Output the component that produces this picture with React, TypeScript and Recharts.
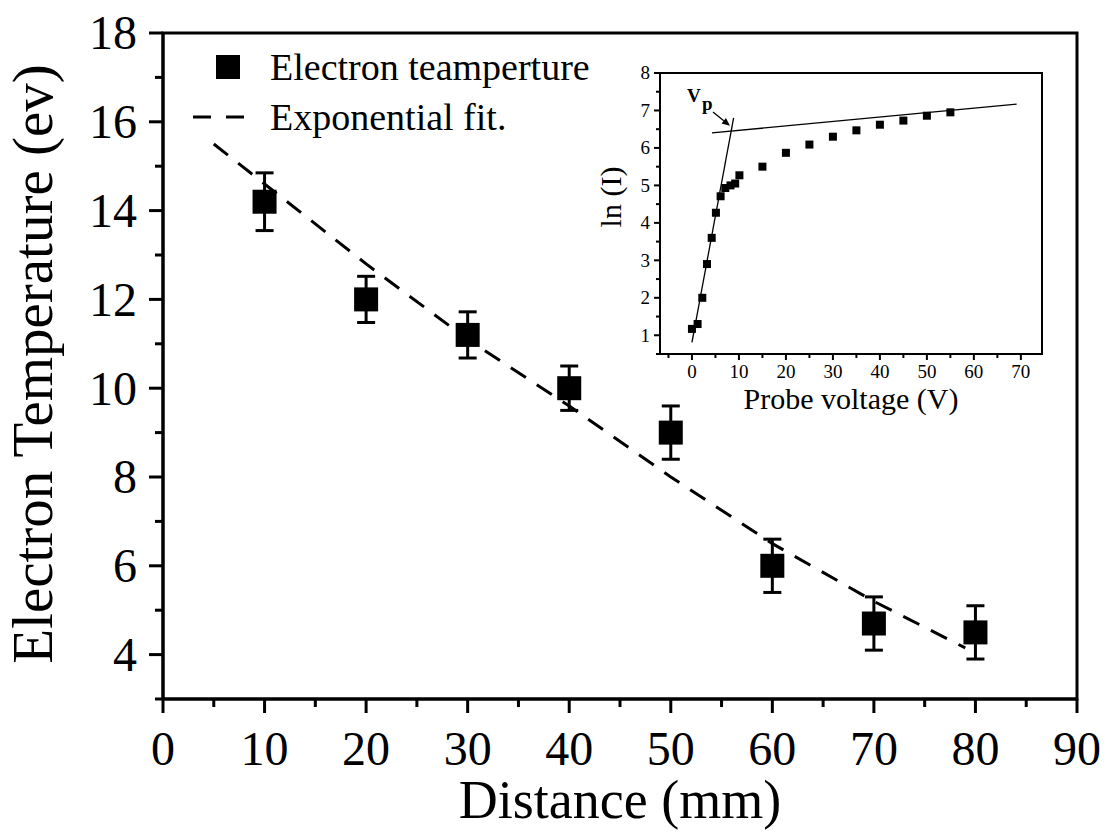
import React from 'react';
import {
  ComposedChart,
  Scatter,
  Line,
  XAxis,
  YAxis,
  ErrorBar,
  ReferenceArea,
  ReferenceLine,
  Legend,
} from 'recharts';

const FONT = '"Liberation Serif", "Times New Roman", Times, serif';

// ---- main chart data ----
const distanceMm = [10, 20, 30, 40, 50, 60, 70, 80];
const electronTemp = [14.2, 12.0, 11.2, 10.0, 9.0, 6.0, 4.7, 4.5];
const tempError = [0.65, 0.52, 0.52, 0.5, 0.6, 0.6, 0.6, 0.6];
const fitDistance = [5, 10, 20, 30, 40, 50, 60, 70, 79];
const fitTemp = [15.5, 14.6, 12.8, 11.1, 9.6, 8.0, 6.5, 5.2, 4.15];
const mainXTicks = [0, 5, 10, 15, 20, 25, 30, 35, 40, 45, 50, 55, 60, 65, 70, 75, 80, 85, 90];
const mainYTicks = [3, 4, 5, 6, 7, 8, 9, 10, 11, 12, 13, 14, 15, 16, 17, 18];
const mainXDomain = [0, 90];
const mainYDomain = [3, 18];

// ---- inset data ----
const probeVoltage = [0, 1.2, 2.2, 3.2, 4.2, 5.1, 6.1, 7.1, 8.2, 9.2, 10.1, 15, 20, 25, 30, 35, 40, 45, 50, 55];
const lnCurrent = [1.17, 1.3, 2.0, 2.9, 3.6, 4.27, 4.71, 4.93, 5.0, 5.05, 5.27, 5.5, 5.87, 6.09, 6.3, 6.47, 6.62, 6.73, 6.86, 6.95];
const steepFitV = [0, 8.87];
const steepFitL = [0.81, 6.8];
const flatFitV = [4.26, 69.1];
const flatFitL = [6.4, 7.17];
const arrowV = [4.47, 8.09];
const arrowL = [6.96, 6.59];
const insetXTicks = [-5, 0, 5, 10, 15, 20, 25, 30, 35, 40, 45, 50, 55, 60, 65, 70];
const insetYTicks = [0.5, 1, 1.5, 2, 2.5, 3, 3.5, 4, 4.5, 5, 5.5, 6, 6.5, 7, 7.5, 8];
const insetXDomain = [-6.8, 74.5];
const insetYDomain = [0.5, 8];

const measured = distanceMm.map((x, i) => ({ x, t: electronTemp[i], err: tempError[i] }));
const fit = fitDistance.map((x, i) => ({ x, fit: fitTemp[i] }));
const probe = probeVoltage.map((v, i) => ({ v, l: lnCurrent[i] }));
const steep = steepFitV.map((v, i) => ({ v, l: steepFitL[i] }));
const flat = flatFitV.map((v, i) => ({ v, l: flatFitL[i] }));

const MainSquare = (p: any) => (
  <rect x={p.cx - 12} y={p.cy - 12} width={24} height={24} fill="#000" />
);
const InsetSquare = (p: any) => (
  <rect x={p.cx - 4} y={p.cy - 4} width={8} height={8} fill="#000" />
);

const MainXTick = (p: any) => {
  const { x, y, payload } = p;
  const major = payload.value % 10 === 0;
  return (
    <g>
      <line x1={x} x2={x} y1={y} y2={y + (major ? 14 : 8)} stroke="#000" strokeWidth={3} />
      {major && (
        <text x={x} y={y + 66} textAnchor="middle" fontSize={48} fontFamily={FONT} fill="#000">
          {payload.value}
        </text>
      )}
    </g>
  );
};

const MainYTick = (p: any) => {
  const { x, y, payload } = p;
  const major = payload.value % 2 === 0;
  return (
    <g>
      <line x1={x - (major ? 14 : 8)} x2={x} y1={y} y2={y} stroke="#000" strokeWidth={3} />
      {major && (
        <text x={x - 26} y={y} dy="0.34em" textAnchor="end" fontSize={48} fontFamily={FONT} fill="#000">
          {payload.value}
        </text>
      )}
    </g>
  );
};

const InsetXTick = (p: any) => {
  const { x, y, payload } = p;
  const major = payload.value % 10 === 0;
  return (
    <g>
      <line x1={x} x2={x} y1={y} y2={y + (major ? 6 : 4)} stroke="#000" strokeWidth={2} />
      {major && (
        <text x={x} y={y + 24} textAnchor="middle" fontSize={19} fontFamily={FONT} fill="#000">
          {payload.value}
        </text>
      )}
    </g>
  );
};

const InsetYTick = (p: any) => {
  const { x, y, payload } = p;
  const major = Number.isInteger(payload.value);
  return (
    <g>
      <line x1={x - (major ? 6 : 4)} x2={x} y1={y} y2={y} stroke="#000" strokeWidth={2} />
      {major && (
        <text x={x - 10} y={y} dy="0.34em" textAnchor="end" fontSize={19} fontFamily={FONT} fill="#000">
          {payload.value}
        </text>
      )}
    </g>
  );
};

const MainLegend = () => (
  <svg width={430} height={110} style={{ overflow: 'visible', display: 'block' }}>
    <rect x={31} y={15} width={24} height={24} fill="#000" />
    <text x={85} y={40} fontSize={38} fontFamily={FONT} fill="#000">
      Electron teamperture
    </text>
    <line x1={8} x2={60} y1={77} y2={77} stroke="#000" strokeWidth={3} strokeDasharray="18 15" />
    <text x={85} y={90} fontSize={38} fontFamily={FONT} fill="#000">
      Exponential fit.
    </text>
  </svg>
);

const VpArrow = (p: any) => {
  const { x1, y1, x2, y2 } = p;
  const ang = Math.atan2(y2 - y1, x2 - x1);
  const L = 8;
  const W = 3.5;
  const bx = x2 - L * Math.cos(ang);
  const by = y2 - L * Math.sin(ang);
  const pts = `${x2},${y2} ${bx - W * Math.sin(ang)},${by + W * Math.cos(ang)} ${bx + W * Math.sin(ang)},${by - W * Math.cos(ang)}`;
  return (
    <g>
      <line x1={x1} y1={y1} x2={bx} y2={by} stroke="#000" strokeWidth={1.3} />
      <polygon points={pts} fill="#000" />
      <text x={x1 - 26} y={y1 - 10} fontSize={19} fontWeight="bold" fontFamily={FONT} fill="#000">
        V
      </text>
      <text x={x1 - 11} y={y1 - 2} fontSize={19} fontWeight="bold" fontFamily={FONT} fill="#000">
        p
      </text>
    </g>
  );
};

export default function App() {
  return (
    <div style={{ position: 'absolute', left: 0, top: 0, width: 1109, height: 832, background: '#fff' }}>
      <ComposedChart width={1109} height={832} margin={{ top: 33, right: 32, left: 0, bottom: 0 }}>
        <XAxis
          type="number"
          dataKey="x"
          domain={mainXDomain}
          ticks={mainXTicks}
          interval={0}
          height={133}
          tickSize={0}
          tickMargin={0}
          tickLine={false}
          tick={<MainXTick />}
          axisLine={{ stroke: '#000', strokeWidth: 3 }}
          allowDataOverflow
          label={{
            content: (props: any) => {
              const vb = props.viewBox;
              return (
                <text x={vb.x + vb.width / 2} y={818} textAnchor="middle" fontSize={54} fontFamily={FONT} fill="#000">
                  Distance (mm)
                </text>
              );
            },
          }}
        />
        <YAxis
          type="number"
          domain={mainYDomain}
          ticks={mainYTicks}
          interval={0}
          width={163}
          tickSize={0}
          tickMargin={0}
          tickLine={false}
          tick={<MainYTick />}
          axisLine={{ stroke: '#000', strokeWidth: 3 }}
          allowDataOverflow
          label={{
            content: () => (
              <text
                x={52}
                y={364}
                transform="rotate(-90 52 364)"
                textAnchor="middle"
                fontSize={57}
                fontFamily={FONT}
                fill="#000"
              >
                Electron Temperature (ev)
              </text>
            ),
          }}
        />
        <ReferenceArea
          x1={mainXDomain[0]}
          x2={mainXDomain[1]}
          y1={mainYDomain[0]}
          y2={mainYDomain[1]}
          fill="none"
          stroke="#000"
          strokeWidth={3}
          ifOverflow="visible"
        />
        <Line
          data={fit}
          dataKey="fit"
          type="linear"
          stroke="#000"
          strokeWidth={3}
          strokeDasharray="18 13"
          dot={false}
          activeDot={false}
          isAnimationActive={false}
          legendType="none"
        />
        <Scatter data={measured} dataKey="t" shape={<MainSquare />} isAnimationActive={false}>
          <ErrorBar dataKey="err" direction="y" width={9} strokeWidth={3} stroke="#000" />
        </Scatter>
        <Legend
          layout="vertical"
          align="center"
          verticalAlign="middle"
          content={() => <MainLegend />}
          wrapperStyle={{ left: 185, top: 40, width: 430, height: 110 }}
        />
      </ComposedChart>

      <div style={{ position: 'absolute', left: 590, top: 55 }}>
        <ComposedChart width={470} height={370} margin={{ top: 18, right: 18, left: 0, bottom: 0 }}>
          <XAxis
            type="number"
            dataKey="v"
            domain={insetXDomain}
            ticks={insetXTicks}
            interval={0}
            height={71}
            tickSize={0}
            tickMargin={0}
            tickLine={false}
            tick={<InsetXTick />}
            axisLine={{ stroke: '#000', strokeWidth: 2 }}
            allowDataOverflow
            label={{
              content: (props: any) => {
                const vb = props.viewBox;
                return (
                  <text x={vb.x + vb.width / 2} y={vb.y + 55} textAnchor="middle" fontSize={30} fontFamily={FONT} fill="#000">
                    Probe voltage (V)
                  </text>
                );
              },
            }}
          />
          <YAxis
            type="number"
            domain={insetYDomain}
            ticks={insetYTicks}
            interval={0}
            width={70}
            tickSize={0}
            tickMargin={0}
            tickLine={false}
            tick={<InsetYTick />}
            axisLine={{ stroke: '#000', strokeWidth: 2 }}
            allowDataOverflow
            label={{
              content: () => (
                <text x={31} y={142} transform="rotate(-90 31 142)" textAnchor="middle" fontSize={30} fontFamily={FONT} fill="#000">
                  ln (I)
                </text>
              ),
            }}
          />
          <ReferenceArea
            x1={insetXDomain[0]}
            x2={insetXDomain[1]}
            y1={insetYDomain[0]}
            y2={insetYDomain[1]}
            fill="none"
            stroke="#000"
            strokeWidth={2}
            ifOverflow="visible"
          />
          <Line data={steep} dataKey="l" type="linear" stroke="#000" strokeWidth={1.3} dot={false} activeDot={false} isAnimationActive={false} />
          <Line data={flat} dataKey="l" type="linear" stroke="#000" strokeWidth={1.3} dot={false} activeDot={false} isAnimationActive={false} />
          <Scatter data={probe} dataKey="l" shape={<InsetSquare />} isAnimationActive={false} />
          <ReferenceLine
            segment={[
              { x: arrowV[0], y: arrowL[0] },
              { x: arrowV[1], y: arrowL[1] },
            ]}
            ifOverflow="visible"
            shape={(p: any) => <VpArrow {...p} />}
          />
        </ComposedChart>
      </div>
    </div>
  );
}
